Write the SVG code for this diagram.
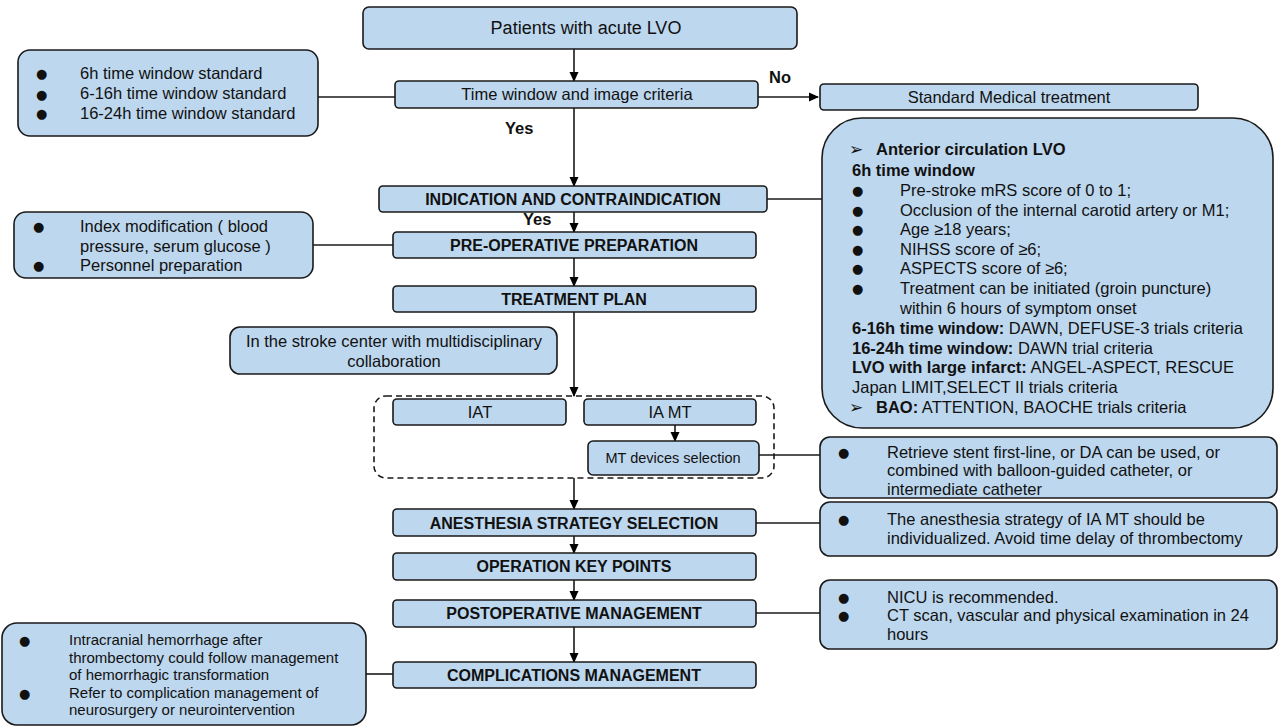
<svg xmlns="http://www.w3.org/2000/svg" width="1280" height="727" viewBox="0 0 1280 727">
<defs>
<marker id="ah" markerWidth="10" markerHeight="10" refX="9" refY="5" orient="auto" markerUnits="userSpaceOnUse">
<path d="M0,0.5 L10,5 L0,9.5 Z" fill="#000"/>
</marker>
<style>
.box{fill:#BDD7EE;stroke:#1a1a1a;stroke-width:1.6}
.dash{fill:none;stroke:#1a1a1a;stroke-width:1.6;stroke-dasharray:6,4}
.ln{fill:none;stroke:#1a1a1a;stroke-width:1.6}
.t{font-family:"Liberation Sans",Arial,sans-serif;font-size:16.5px;fill:#111}
.tc{font-family:"Liberation Sans",Arial,sans-serif;font-size:16.5px;fill:#111;text-anchor:middle}
.tb{font-family:"Liberation Sans",Arial,sans-serif;font-size:16px;font-weight:bold;fill:#111;text-anchor:middle}
.b{font-weight:bold}
.bul{font-family:"DejaVu Sans",sans-serif;font-size:13px;fill:#111}
.arr{font-family:"DejaVu Sans",sans-serif;font-size:17px;fill:#111}
.s15{font-size:15px}
</style>
</defs>
<rect width="1280" height="727" fill="#fff"/>

<g id="connectors">
<line class="ln" x1="574" y1="49" x2="574" y2="81" marker-end="url(#ah)"/>
<line class="ln" x1="758" y1="97" x2="818" y2="97" marker-end="url(#ah)"/>
<line class="ln" x1="318" y1="97" x2="395" y2="97"/>
<line class="ln" x1="574" y1="108" x2="574" y2="186" marker-end="url(#ah)"/>
<line class="ln" x1="767" y1="199" x2="822" y2="199"/>
<line class="ln" x1="574" y1="212" x2="574" y2="232" marker-end="url(#ah)"/>
<line class="ln" x1="313" y1="245" x2="393" y2="245"/>
<line class="ln" x1="574" y1="258" x2="574" y2="286" marker-end="url(#ah)"/>
<line class="ln" x1="574" y1="312" x2="574" y2="396" marker-end="url(#ah)"/>
<line class="ln" x1="675" y1="425" x2="675" y2="441" marker-end="url(#ah)"/>
<line class="ln" x1="759" y1="455" x2="820" y2="455"/>
<line class="ln" x1="574" y1="478" x2="574" y2="509" marker-end="url(#ah)"/>
<line class="ln" x1="756" y1="523" x2="820" y2="523"/>
<line class="ln" x1="574" y1="536" x2="574" y2="553" marker-end="url(#ah)"/>
<line class="ln" x1="574" y1="580" x2="574" y2="600" marker-end="url(#ah)"/>
<line class="ln" x1="756" y1="613" x2="820" y2="613"/>
<line class="ln" x1="574" y1="627" x2="574" y2="662" marker-end="url(#ah)"/>
<line class="ln" x1="366" y1="674" x2="393" y2="674"/>
<text class="t b" x="769" y="83">No</text>
<text class="t b" x="505" y="134">Yes</text>
<text class="t b" x="523" y="225">Yes</text>
</g>

<g id="patients">
<rect class="box" x="363" y="7" width="434" height="42" rx="6"/>
<text class="tc" x="586" y="34" style="font-size:18px">Patients with acute LVO</text>
</g>

<g id="time-window">
<rect class="box" x="395" y="81" width="363" height="27" rx="4"/>
<text class="tc" x="577" y="100">Time window and image criteria</text>
</g>

<g id="standard-medical">
<rect class="box" x="820" y="84" width="378" height="26" rx="4"/>
<text class="tc" x="1009" y="103">Standard Medical treatment</text>
</g>

<g id="time-standards">
<rect class="box" x="18" y="50" width="300" height="86" rx="12"/>
<text class="bul" x="36" y="78">●</text>
<text class="bul" x="36" y="99">●</text>
<text class="bul" x="36" y="118">●</text>
<text class="t" x="80" y="79">6h time window standard</text>
<text class="t" x="80" y="99">6-16h time window standard</text>
<text class="t" x="80" y="119">16-24h time window standard</text>
</g>

<g id="indication">
<rect class="box" x="379" y="186" width="388" height="26" rx="4"/>
<text class="tb" x="573" y="205">INDICATION AND CONTRAINDICATION</text>
</g>

<g id="criteria">
<rect class="box" x="822" y="118" width="451" height="310" rx="40"/>
<text class="arr" x="849" y="155">➢</text>
<text class="t b" x="876" y="155">Anterior circulation LVO</text>
<text class="t b" x="852" y="176">6h time window</text>
<text class="bul" x="852" y="195">●</text>
<text class="bul" x="852" y="215">●</text>
<text class="bul" x="852" y="234">●</text>
<text class="bul" x="852" y="254">●</text>
<text class="bul" x="852" y="273">●</text>
<text class="bul" x="852" y="293">●</text>
<text class="t" x="900" y="196">Pre-stroke mRS score of 0 to 1;</text>
<text class="t" x="900" y="216">Occlusion of the internal carotid artery or M1;</text>
<text class="t" x="900" y="235">Age ≥18 years;</text>
<text class="t" x="900" y="255">NIHSS score of ≥6;</text>
<text class="t" x="900" y="274">ASPECTS score of ≥6;</text>
<text class="t" x="900" y="294">Treatment can be initiated (groin puncture)</text>
<text class="t" x="900" y="314">within 6 hours of symptom onset</text>
<text class="t" x="852" y="334"><tspan class="b">6-16h time window:</tspan> DAWN, DEFUSE-3 trials criteria</text>
<text class="t" x="852" y="354"><tspan class="b">16-24h time window:</tspan> DAWN trial criteria</text>
<text class="t" x="852" y="373"><tspan class="b">LVO with large infarct:</tspan> ANGEL-ASPECT, RESCUE</text>
<text class="t" x="852" y="393">Japan LIMIT,SELECT II trials criteria</text>
<text class="arr" x="849" y="413">➢</text>
<text class="t" x="876" y="413"><tspan class="b">BAO:</tspan> ATTENTION, BAOCHE trials criteria</text>
</g>

<g id="preop-notes">
<rect class="box" x="14" y="212" width="299" height="66" rx="12"/>
<text class="bul" x="33" y="231">●</text>
<text class="bul" x="33" y="270">●</text>
<text class="t" x="80" y="232">Index modification ( blood</text>
<text class="t" x="80" y="252">pressure, serum glucose )</text>
<text class="t" x="80" y="271">Personnel preparation</text>
</g>

<g id="preop">
<rect class="box" x="393" y="232" width="363" height="26" rx="4"/>
<text class="tb" x="574" y="251">PRE-OPERATIVE PREPARATION</text>
</g>

<g id="treatment-plan">
<rect class="box" x="393" y="286" width="363" height="26" rx="4"/>
<text class="tb" x="574" y="305">TREATMENT PLAN</text>
</g>

<g id="stroke-center">
<rect class="box" x="230" y="327" width="327" height="47" rx="10"/>
<text class="tc" x="394" y="347">In the stroke center with multidisciplinary</text>
<text class="tc" x="394" y="367">collaboration</text>
</g>

<g id="treatment-options">
<rect class="dash" x="374" y="396" width="400" height="82" rx="12"/>
</g>

<g id="iat">
<rect class="box" x="393" y="399" width="173" height="26" rx="4"/>
<text class="tc" x="480" y="418">IAT</text>
</g>

<g id="iamt">
<rect class="box" x="584" y="399" width="172" height="26" rx="4"/>
<text class="tc" x="670" y="418">IA MT</text>
</g>

<g id="mt-devices">
<rect class="box" x="588" y="441" width="171" height="34" rx="5"/>
<text class="tc" x="673" y="463" style="font-size:14.5px">MT devices selection</text>
</g>

<g id="devices-notes">
<rect class="box" x="820" y="437" width="457" height="61" rx="10"/>
<text class="bul" x="838" y="457">●</text>
<text class="t" x="887" y="458">Retrieve stent first-line, or DA can be used, or</text>
<text class="t" x="887" y="476">combined with balloon-guided catheter, or</text>
<text class="t" x="887" y="495">intermediate catheter</text>
</g>

<g id="anesthesia">
<rect class="box" x="393" y="509" width="363" height="27" rx="4"/>
<text class="tb" x="574" y="529">ANESTHESIA STRATEGY SELECTION</text>
</g>

<g id="anesthesia-notes">
<rect class="box" x="820" y="502" width="457" height="54" rx="10"/>
<text class="bul" x="838" y="524">●</text>
<text class="t" x="887" y="525">The anesthesia strategy of IA MT should be</text>
<text class="t" x="887" y="544">individualized. Avoid time delay of thrombectomy</text>
</g>

<g id="operation">
<rect class="box" x="393" y="553" width="363" height="27" rx="4"/>
<text class="tb" x="574" y="572">OPERATION KEY POINTS</text>
</g>

<g id="postop">
<rect class="box" x="393" y="600" width="363" height="27" rx="4"/>
<text class="tb" x="574" y="619">POSTOPERATIVE MANAGEMENT</text>
</g>

<g id="postop-notes">
<rect class="box" x="820" y="580" width="457" height="69" rx="10"/>
<text class="bul" x="838" y="602">●</text>
<text class="bul" x="838" y="620">●</text>
<text class="t" x="887" y="603">NICU is recommended.</text>
<text class="t" x="887" y="621">CT scan, vascular and physical examination in 24</text>
<text class="t" x="887" y="640">hours</text>
</g>

<g id="complications">
<rect class="box" x="393" y="662" width="363" height="26" rx="4"/>
<text class="tb" x="574" y="681">COMPLICATIONS MANAGEMENT</text>
</g>

<g id="complication-notes">
<rect class="box" x="2" y="623" width="364" height="102" rx="15"/>
<text class="bul" x="19" y="645">●</text>
<text class="bul" x="19" y="698">●</text>
<text class="t s15" x="69" y="645">Intracranial hemorrhage after</text>
<text class="t s15" x="69" y="663">thrombectomy could follow management</text>
<text class="t s15" x="69" y="680">of hemorrhagic transformation</text>
<text class="t s15" x="69" y="698">Refer to complication management of</text>
<text class="t s15" x="69" y="715">neurosurgery or neurointervention</text>
</g>
</svg>
